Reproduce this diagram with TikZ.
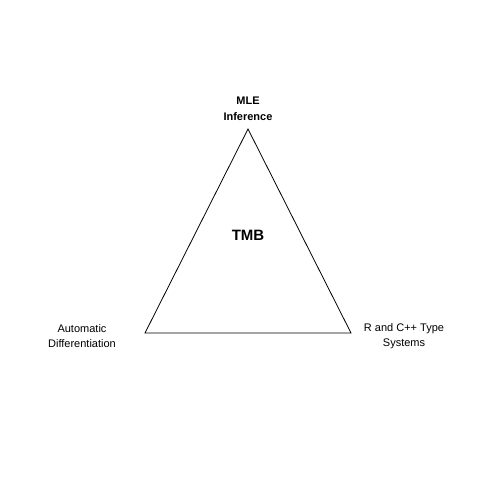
\documentclass[tikz,border=0pt]{standalone}
\usepackage{fontspec}
\setmainfont{Liberation Sans}
\usetikzlibrary{positioning}
\tikzset{
  vlabel/.style={align=center, font=\fontsize{11}{15}\selectfont, inner sep=0pt},
  toplabel/.style={vlabel, font=\fontsize{11}{16}\selectfont\bfseries},
  centerlabel/.style={font=\fontsize{15}{18}\selectfont\bfseries, inner sep=0pt}
}
\begin{document}
\begin{tikzpicture}[x=1pt,y=-1pt]
        \useasboundingbox (0,0) rectangle (480,480);
        % corners of the triangle
        \coordinate (mle) at (248,129);
        \coordinate (ad) at (145,333);
        \coordinate (types) at (351,333);
        \draw[line width=0.8pt] (mle) -- (ad) -- (types) -- cycle;
        % labels
        \node[toplabel] (mlelabel) at (248,109) {MLE\\Inference};
        \node[vlabel] (adlabel) at (82,336) {Automatic\\Differentiation};
        \node[vlabel] (typeslabel) at (404,336) {R and C++ Type\\Systems};
        \node[centerlabel] (tmb) at (248,235) {TMB};
    \end{tikzpicture}
\end{document}
